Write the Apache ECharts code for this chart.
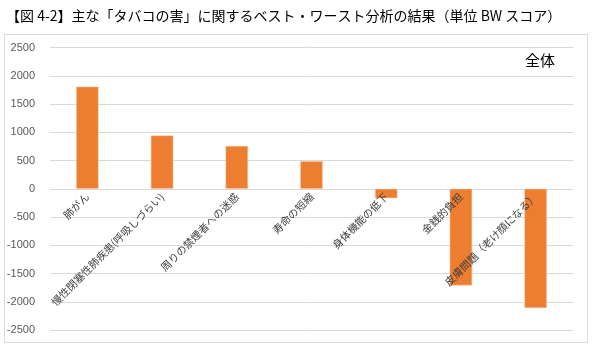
<!DOCTYPE html>
<html><head><meta charset="utf-8">
<script src="https://cdn.jsdelivr.net/npm/echarts@6/dist/echarts.min.js"></script>
<style>html,body{margin:0;padding:0;background:#fff}#c{width:596px;height:351px}</style>
</head><body><div id="c"></div>
<script>
const titleText = "【図 4-2】主な「タバコの害」に関するベスト・ワースト分析の結果（単位 BW スコア）";
const panelLabel = "全体";
const categories = ["肺がん","慢性閉塞性肺疾患(呼吸しづらい)","周りの禁煙者への迷惑","寿命の短縮","身体機能の低下","金銭的負担","皮膚問題（老け顔になる）"];
const values = [1810, 945, 760, 490, -165, -1710, -2110];
const yMin = -2500, yMax = 2500, yStep = 500;

const chart = echarts.init(document.getElementById('c'), null, {renderer:'canvas'});
const jp = '"Noto Sans CJK JP", "Noto Sans", sans-serif';
const gridTop = 47.7, gridBottom = 21, H = 351;
const plotH = H - gridTop - gridBottom;
const zeroFromBottom = gridBottom + plotH * (0 - yMin) / (yMax - yMin);
chart.setOption({
  animation:false,
  title:{text:titleText,left:1,top:4,textStyle:{fontFamily:jp,fontSize:14,fontWeight:'normal',color:'#000'}},
  graphic:[
    {type:'rect',shape:{x:4.5,y:34.5,width:583,height:308},style:{fill:'none',stroke:'#d9d9d9',lineWidth:1},z:-1},
    {type:'text',left:525,top:53,style:{text:panelLabel,font:'15px '+jp,fill:'#000'}}
  ],
  grid:[
    {left:50,right:23,top:gridTop,bottom:gridBottom,containLabel:false,outerBoundsMode:'none'},
    {left:50,right:23,top:gridTop,bottom:zeroFromBottom,containLabel:false,outerBoundsMode:'none'}
  ],
  xAxis:[
    {gridIndex:0,type:'category',data:categories,show:false},
    {gridIndex:1,type:'category',data:categories,z:5,
      axisLine:{show:false},axisTick:{show:false},
      axisLabel:{rotate:45,interval:0,fontFamily:jp,fontSize:10.5,color:'#404040',margin:6,hideOverlap:false}}
  ],
  yAxis:[
    {gridIndex:0,type:'value',min:yMin,max:yMax,interval:yStep,
      axisLine:{show:false},axisTick:{show:false},
      splitLine:{lineStyle:{color:'#d9d9d9'}},
      axisLabel:{fontFamily:'"Liberation Sans", sans-serif',fontSize:11,color:'#595959',margin:15,showMinLabel:true,showMaxLabel:true,hideOverlap:false,formatter:v=>String(v)}},
    {gridIndex:1,type:'value',min:0,max:yMax,show:false}
  ],
  series:[{type:'bar',xAxisIndex:0,yAxisIndex:0,data:values,barWidth:'30%',z:2,itemStyle:{color:'#ed7d31',borderColor:'#f8cbad',borderWidth:0.5}}]
});
</script></body></html>
